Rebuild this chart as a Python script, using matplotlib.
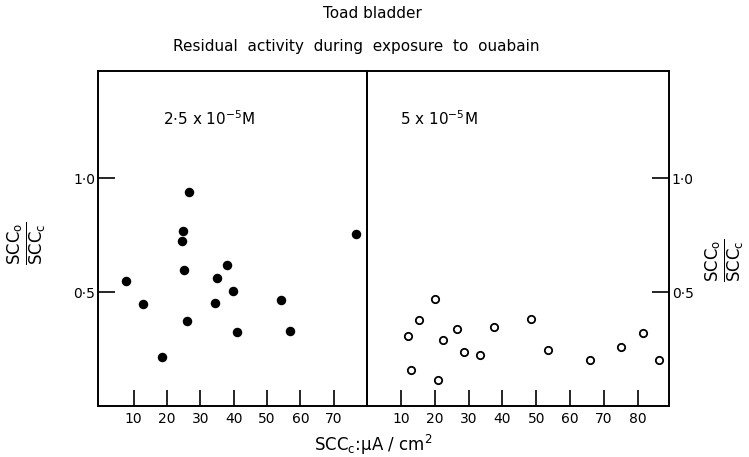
import numpy as np
import matplotlib
matplotlib.use('Agg')
import matplotlib.pyplot as plt

# 2.5e-5 M ouabain (filled)
x_low = [7.8, 12.7, 18.6, 24.5, 24.8, 25.0, 26.1, 26.6, 34.4, 35.0, 38.1, 39.7, 40.9, 54.3, 57.0, 76.6]
y_low = [0.55, 0.447, 0.215, 0.726, 0.769, 0.596, 0.374, 0.941, 0.45, 0.563, 0.617, 0.504, 0.326, 0.463, 0.330, 0.754]

# 5e-5 M ouabain (open)
x_high = [12.0, 13.1, 15.3, 20.1, 21.0, 22.4, 26.6, 28.6, 33.3, 37.6, 48.3, 53.5, 66.0, 75.0, 81.6, 86.1]
y_high = [0.305, 0.158, 0.376, 0.468, 0.112, 0.288, 0.336, 0.237, 0.225, 0.347, 0.380, 0.247, 0.202, 0.259, 0.322, 0.202]

xticks_low = [10, 20, 30, 40, 50, 60, 70]
xticks_high = [10, 20, 30, 40, 50, 60, 70, 80]
yticks = [0.5, 1.0]
ytick_labels = ['0·5', '1·0']

plt.rcParams['mathtext.fontset'] = 'dejavusans'
plt.rcParams['font.family'] = 'DejaVu Sans'

fig = plt.figure(figsize=(7.49, 4.57), dpi=100)
W, H = 749, 457
x0, xm, x1 = 98, 367, 669
yb, yt = 406, 71
ax1 = fig.add_axes([x0 / W, 1 - yb / H, (xm - x0) / W, (yb - yt) / H])
ax2 = fig.add_axes([xm / W, 1 - yb / H, (x1 - xm) / W, (yb - yt) / H])

ax1.scatter(x_low, y_low, s=34, color='black', zorder=3)
ax2.scatter(x_high, y_high, s=28, facecolors='white', edgecolors='black', linewidths=1.3, zorder=3)

ax1.set_xlim(-0.7, 80)
ax2.set_xlim(0, 89.2)
for ax in (ax1, ax2):
    ax.set_ylim(0, 1.47)
    ax.patch.set_alpha(0)
    for sp in ax.spines.values():
        sp.set_linewidth(1.4)
    ax.set_yticks(yticks)
    ax.set_yticklabels(ytick_labels)
    ax.tick_params(axis='x', direction='in', length=11.5, width=1.2, pad=4, labelsize=10)
    ax.tick_params(axis='y', direction='in', length=12, width=1.2, pad=2, labelsize=10)

ax1.set_xticks(xticks_low)
ax2.set_xticks(xticks_high)
ax2.yaxis.tick_right()

ax1.text(0.24, 0.84, r'2$\cdot$5 x 10$^{-5}$M', transform=ax1.transAxes, fontsize=11)
ax2.text(0.11, 0.84, r'5 x 10$^{-5}$M', transform=ax2.transAxes, fontsize=11)

frac = r'$\frac{\mathrm{SCC_o}}{\mathrm{SCC_c}}$'
fig.text(27 / W, 1 - 243 / H, frac, rotation=90, fontsize=17, ha='center', va='center')
fig.text(725 / W, 1 - 260 / H, frac, rotation=90, fontsize=17, ha='center', va='center')

fig.text(373 / W, 1 - 445 / H, r'SCC$_\mathrm{c}$:μA / cm$^2$', fontsize=12, ha='center', va='center')
fig.text(372 / W, 1 - 14 / H, 'Toad bladder', fontsize=11, ha='center', va='center')
fig.text(356 / W, 1 - 47 / H, 'Residual  activity  during  exposure  to  ouabain', fontsize=11, ha='center', va='center')

fig.savefig('out.png', dpi=100)
